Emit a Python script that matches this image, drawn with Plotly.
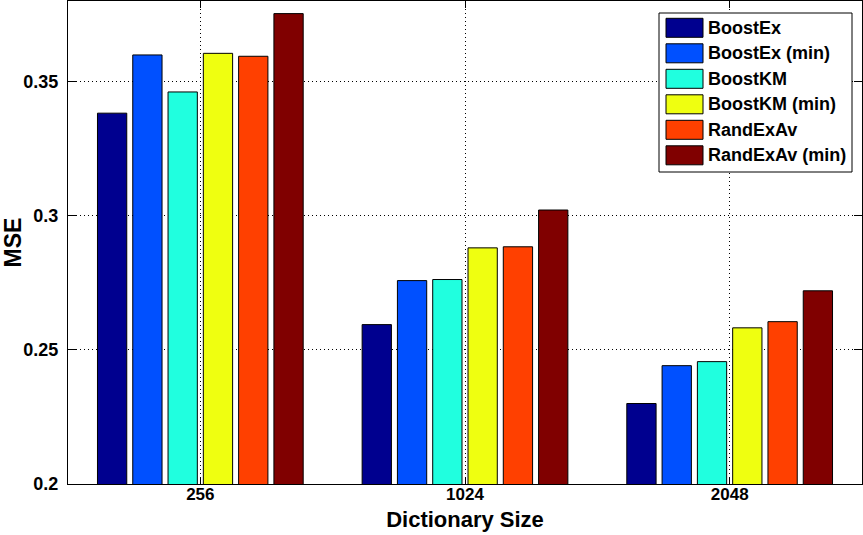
import plotly.graph_objects as go

# ---- data ----
categories = ["256", "1024", "2048"]
series_names = ["BoostEx", "BoostEx (min)", "BoostKM", "BoostKM (min)", "RandExAv", "RandExAv (min)"]
boostex = [0.3382, 0.2594, 0.2300]
boostex_min = [0.3599, 0.2758, 0.2441]
boostkm = [0.3461, 0.2762, 0.2456]
boostkm_min = [0.3605, 0.2880, 0.2582]
randexav = [0.3594, 0.2884, 0.2605]
randexav_min = [0.3753, 0.3021, 0.2720]
y_tick_values = [0.2, 0.25, 0.3, 0.35]
y_tick_labels = ["0.2", "0.25", "0.3", "0.35"]
series_colors = ["#00008F", "#0050FF", "#20FFDF", "#EFFF10", "#FF4000", "#800000"]

series_values = [boostex, boostex_min, boostkm, boostkm_min, randexav, randexav_min]

# ---- layout constants ----
W, H = 863, 535
ML, MR, MT, MB = 68, 1, 1, 51
PW = W - ML - MR
PH = H - MT - MB
FONT = "Liberation Sans"


def px(x):
    return (x - ML) / PW


def py(y):
    return (H - MB - y) / PH


fig = go.Figure()
for name, vals, col in zip(series_names, series_values, series_colors):
    fig.add_trace(go.Bar(
        x=categories, y=vals, name=name,
        marker=dict(color=col, line=dict(color="black", width=1)),
        showlegend=False,
    ))

axis_common = dict(
    showline=True, linecolor="black", linewidth=1, mirror="ticks",
    ticks="inside", tickcolor="black", tickwidth=1,
    showgrid=True, gridcolor="black", gridwidth=1, griddash="1px,3px",
    zeroline=False,
)

fig.update_layout(
    width=W, height=H,
    margin=dict(l=ML, r=MR, t=MT, b=MB, autoexpand=False),
    paper_bgcolor="white", plot_bgcolor="white",
    barmode="group", bargap=0.2, bargroupgap=0.17,
    xaxis=dict(
        type="category", range=[-0.5, 2.5], ticklen=7, ticklabelstandoff=-5,
        tickfont=dict(family=FONT, size=17, color="black", weight="bold"),
        title=dict(text="Dictionary Size", standoff=8,
                   font=dict(family=FONT, size=22, color="black", weight="bold")),
        **axis_common,
    ),
    yaxis=dict(
        range=[0.2, 0.38], tickvals=y_tick_values, ticktext=y_tick_labels, ticklen=8,
        ticklabelstandoff=5,
        tickfont=dict(family=FONT, size=18, color="black", weight="bold"),
        title=dict(text="MSE", standoff=7,
                   font=dict(family=FONT, size=23, color="black", weight="bold")),
        **axis_common,
    ),
)

# ---- legend (MATLAB style) ----
shapes = [dict(type="rect", xref="paper", yref="paper", layer="above",
               x0=px(659), x1=px(852), y0=py(172), y1=py(13),
               fillcolor="white", line=dict(color="black", width=1))]
annotations = []
row0, pitch = 27.8, 25.5
for i, (name, col) in enumerate(zip(series_names, series_colors)):
    cy = row0 + i * pitch
    shapes.append(dict(type="rect", xref="paper", yref="paper", layer="above",
                       x0=px(666), x1=px(703), y0=py(cy + 9.5), y1=py(cy - 9.5),
                       fillcolor=col, line=dict(color="black", width=1)))
    annotations.append(dict(xref="paper", yref="paper", x=px(706), y=py(cy),
                            text=name, showarrow=False, xanchor="left", yanchor="middle",
                            font=dict(family=FONT, size=18, color="black", weight="bold")))
fig.update_layout(shapes=shapes, annotations=annotations)

fig.write_html("out.html", config={"displayModeBar": False},
               post_script="document.body.style.margin='0';document.body.style.overflow='hidden';")
